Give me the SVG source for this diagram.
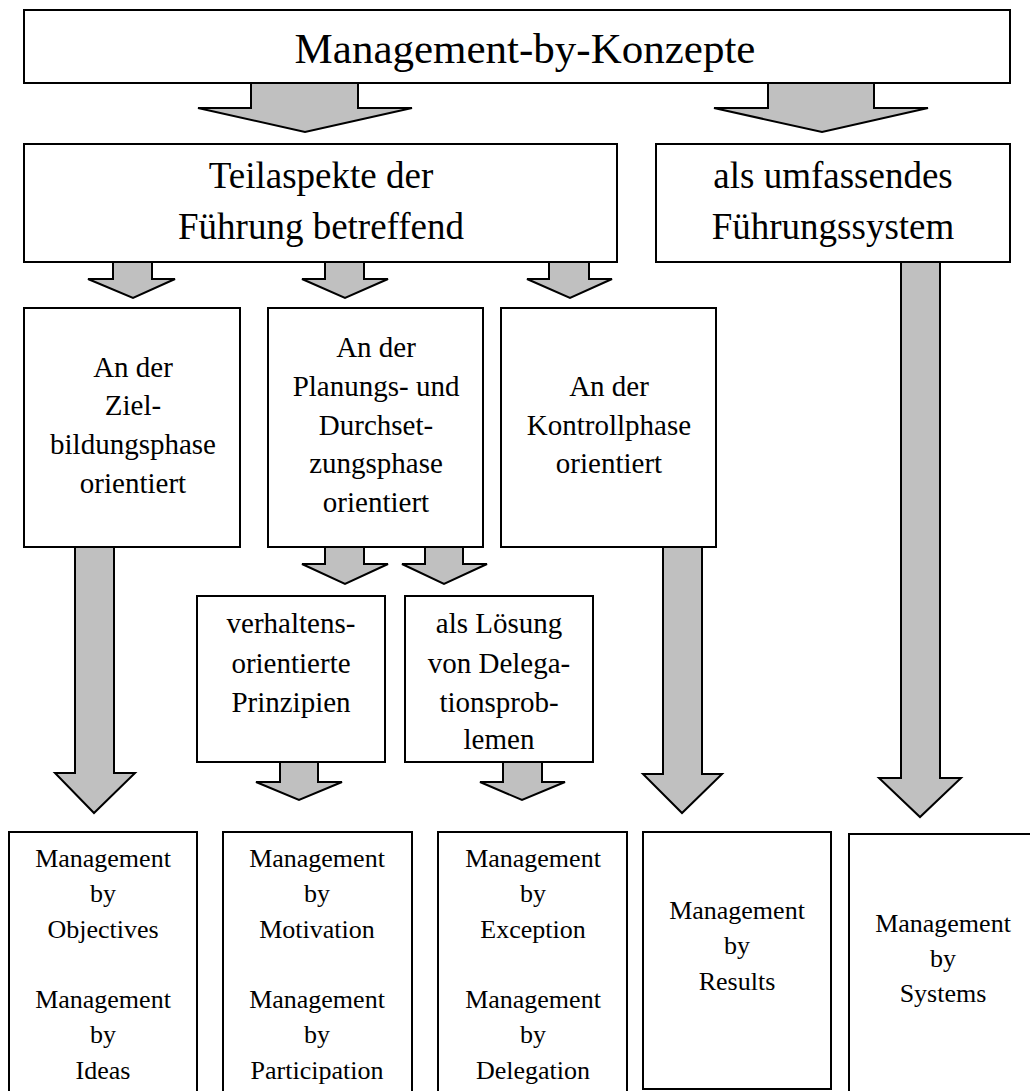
<svg xmlns="http://www.w3.org/2000/svg" width="1030" height="1091" viewBox="0 0 1030 1091">
  <style>
    .box { fill: #ffffff; stroke: #000000; stroke-width: 2; }
    .arrow { fill: #c0c0c0; stroke: #000000; stroke-width: 2; stroke-linejoin: miter; }
    .lbl { font-family: 'Liberation Serif', 'Times New Roman', Times, serif; fill: #000000; text-anchor: middle; }
    .t1 { font-size: 43px; }
    .t2 { font-size: 37px; }
    .t3 { font-size: 29px; }
    .t4 { font-size: 26px; }
  </style>
  <rect width="1030" height="1091" fill="#ffffff"/>

  <!-- block arrows -->
  <g id="connectors">
    <polygon class="arrow" points="251,83 251,108 198,108 305,132 412,108 358,108 358,83"/>
    <polygon class="arrow" points="768,83 768,108 714,108 822,132 928,108 874,108 874,83"/>
    <polygon class="arrow" points="113,262 113,279 88,279 133,298 175,279 152,279 152,262"/>
    <polygon class="arrow" points="325,262 325,279 302,279 345,298 388,279 364,279 364,262"/>
    <polygon class="arrow" points="549,262 549,279 527,279 570,298 612,279 589,279 589,262"/>
    <polygon class="arrow" points="901,262 901,778 879,778 920,817 961,778 940,778 940,262"/>
    <polygon class="arrow" points="75,547 75,773 55,773 94,813 135,773 114,773 114,547"/>
    <polygon class="arrow" points="325,547 325,564 302,564 345,584 388,564 364,564 364,547"/>
    <polygon class="arrow" points="425,547 425,564 402,564 444,584 487,564 463,564 463,547"/>
    <polygon class="arrow" points="663,547 663,774 643,774 682,813 722,774 702,774 702,547"/>
    <polygon class="arrow" points="280,762 280,782 256,782 299,800 342,782 318,782 318,762"/>
    <polygon class="arrow" points="503,762 503,782 480,782 522,800 565,782 542,782 542,762"/>
  </g>

  <g font-family="Liberation Serif, Times New Roman, serif">
  <g id="node-konzepte">
    <rect class="box" x="24" y="10" width="986" height="73"/>
    <text class="lbl t1" x="525" y="63">Management-by-Konzepte</text>
  </g>

  <g id="node-teilaspekte">
    <rect class="box" x="24" y="144" width="593" height="118"/>
    <text class="lbl t2" x="321" y="188">Teilaspekte der</text>
    <text class="lbl t2" x="321" y="239">Führung betreffend</text>
  </g>

  <g id="node-fuehrungssystem">
    <rect class="box" x="656" y="144" width="354" height="118"/>
    <text class="lbl t2" x="833" y="188">als umfassendes</text>
    <text class="lbl t2" x="833" y="239">Führungssystem</text>
  </g>

  <g id="node-zielbildung">
    <rect class="box" x="24" y="308" width="216" height="239"/>
    <text class="lbl t3" x="133" y="377">An der</text>
    <text class="lbl t3" x="133" y="415">Ziel-</text>
    <text class="lbl t3" x="133" y="454">bildungsphase</text>
    <text class="lbl t3" x="133" y="493">orientiert</text>
  </g>

  <g id="node-planung">
    <rect class="box" x="268" y="308" width="215" height="239"/>
    <text class="lbl t3" x="376" y="357">An der</text>
    <text class="lbl t3" x="376" y="396">Planungs- und</text>
    <text class="lbl t3" x="376" y="435">Durchset-</text>
    <text class="lbl t3" x="376" y="473">zungsphase</text>
    <text class="lbl t3" x="376" y="512">orientiert</text>
  </g>

  <g id="node-kontrolle">
    <rect class="box" x="501" y="308" width="215" height="239"/>
    <text class="lbl t3" x="609" y="396">An der</text>
    <text class="lbl t3" x="609" y="435">Kontrollphase</text>
    <text class="lbl t3" x="609" y="473">orientiert</text>
  </g>

  <g id="node-verhalten">
    <rect class="box" x="197" y="596" width="188" height="166"/>
    <text class="lbl t3" x="291" y="633">verhaltens-</text>
    <text class="lbl t3" x="291" y="673">orientierte</text>
    <text class="lbl t3" x="291" y="712">Prinzipien</text>
  </g>

  <g id="node-delegation">
    <rect class="box" x="405" y="596" width="188" height="166"/>
    <text class="lbl t3" x="499" y="633">als Lösung</text>
    <text class="lbl t3" x="499" y="673">von Delega-</text>
    <text class="lbl t3" x="499" y="712">tionsprob-</text>
    <text class="lbl t3" x="499" y="749">lemen</text>
  </g>

  <g id="node-objectives">
    <rect class="box" x="9" y="832" width="188" height="280"/>
    <text class="lbl t4" x="103" y="867">Management</text>
    <text class="lbl t4" x="103" y="902">by</text>
    <text class="lbl t4" x="103" y="938">Objectives</text>
    <text class="lbl t4" x="103" y="1008">Management</text>
    <text class="lbl t4" x="103" y="1043">by</text>
    <text class="lbl t4" x="103" y="1079">Ideas</text>
  </g>

  <g id="node-motivation">
    <rect class="box" x="223" y="832" width="189" height="280"/>
    <text class="lbl t4" x="317" y="867">Management</text>
    <text class="lbl t4" x="317" y="902">by</text>
    <text class="lbl t4" x="317" y="938">Motivation</text>
    <text class="lbl t4" x="317" y="1008">Management</text>
    <text class="lbl t4" x="317" y="1043">by</text>
    <text class="lbl t4" x="317" y="1079">Participation</text>
  </g>

  <g id="node-exception">
    <rect class="box" x="438" y="832" width="189" height="280"/>
    <text class="lbl t4" x="533" y="867">Management</text>
    <text class="lbl t4" x="533" y="902">by</text>
    <text class="lbl t4" x="533" y="938">Exception</text>
    <text class="lbl t4" x="533" y="1008">Management</text>
    <text class="lbl t4" x="533" y="1043">by</text>
    <text class="lbl t4" x="533" y="1079">Delegation</text>
  </g>

  <g id="node-results">
    <rect class="box" x="643" y="832" width="188" height="257"/>
    <text class="lbl t4" x="737" y="919">Management</text>
    <text class="lbl t4" x="737" y="954">by</text>
    <text class="lbl t4" x="737" y="990">Results</text>
  </g>

  <g id="node-systems">
    <rect class="box" x="849" y="834" width="200" height="280"/>
    <text class="lbl t4" x="943" y="932">Management</text>
    <text class="lbl t4" x="943" y="967">by</text>
    <text class="lbl t4" x="943" y="1002">Systems</text>
  </g>
  </g>
</svg>
